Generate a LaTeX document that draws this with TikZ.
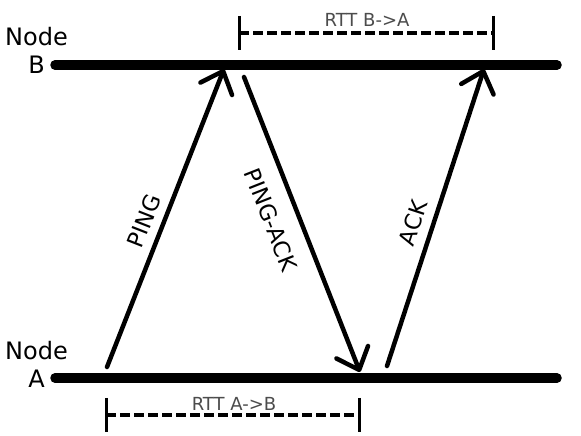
\documentclass[tikz,border=0pt]{standalone}
\usepackage{fontspec}
\setmainfont{DejaVu Sans}
\usetikzlibrary{arrows.meta}
\begin{document}
\begin{tikzpicture}[x=1pt,y=1pt,
  timeline/.style={line width=9.5pt, line cap=round},
  msg/.style={line width=4.5pt, line cap=round, line join=round,
    -{Straight Barb[length=19pt,width=34pt,round]}},
  rtt/.style={line width=3.2pt, dash pattern=on 10pt off 4pt},
  tick/.style={line width=3pt},
  nodelabel/.style={font=\fontsize{24}{28}\selectfont, align=center, inner sep=0pt},
  msglabel/.style={font=\fontsize{22.5}{26}\selectfont, inner sep=0pt},
  rttlabel/.style={font=\fontsize{18}{22}\selectfont, text=black!70, inner sep=0pt}]
\useasboundingbox (0,0) rectangle (581,436);
\fill[white] (0,0) rectangle (581,436);

% time lines
\coordinate (b0) at (55,371);
\coordinate (b1) at (557,371);
\coordinate (a0) at (55,58);
\coordinate (a1) at (557,58);
\draw[timeline] (b0) -- (b1);
\draw[timeline] (a0) -- (a1);

\node[nodelabel] (nodeB) at (36.5,386) {Node\\B};
\node[nodelabel] (nodeA) at (36.5,72) {Node\\A};

% messages
\coordinate (p0) at (107,69);
\coordinate (p1) at (224,367);
\coordinate (q0) at (244,359);
\coordinate (q1) at (360,64);
\coordinate (r0) at (387,70);
\coordinate (r1) at (484,367);
\draw[msg] (p0) -- (p1);
\draw[msg] (q0) -- (q1);
\draw[msg] (r0) -- (r1);

\node[msglabel, rotate=68.6] (lping) at (144,215) {PING};
\node[msglabel, rotate=-68.5] (lpingack) at (271,216) {PING-ACK};
\node[msglabel, rotate=71.9] (lack) at (413,213) {ACK};

% RTT B->A
\coordinate (t0) at (239,403);
\coordinate (t1) at (493,403);
\draw[rtt] (t0) -- (t1);
\draw[tick] ([yshift=17pt]t0) -- ([yshift=-17pt]t0);
\draw[tick] ([yshift=17pt]t1) -- ([yshift=-17pt]t1);
\node[rttlabel] (lrttb) at (367,416) {RTT B->A};

% RTT A->B
\coordinate (u0) at (106,21);
\coordinate (u1) at (359,21);
\draw[rtt] (u0) -- (u1);
\draw[tick] ([yshift=17pt]u0) -- ([yshift=-17pt]u0);
\draw[tick] ([yshift=17pt]u1) -- ([yshift=-17pt]u1);
\node[rttlabel] (lrtta) at (234,32) {RTT A->B};
\end{tikzpicture}
\end{document}
